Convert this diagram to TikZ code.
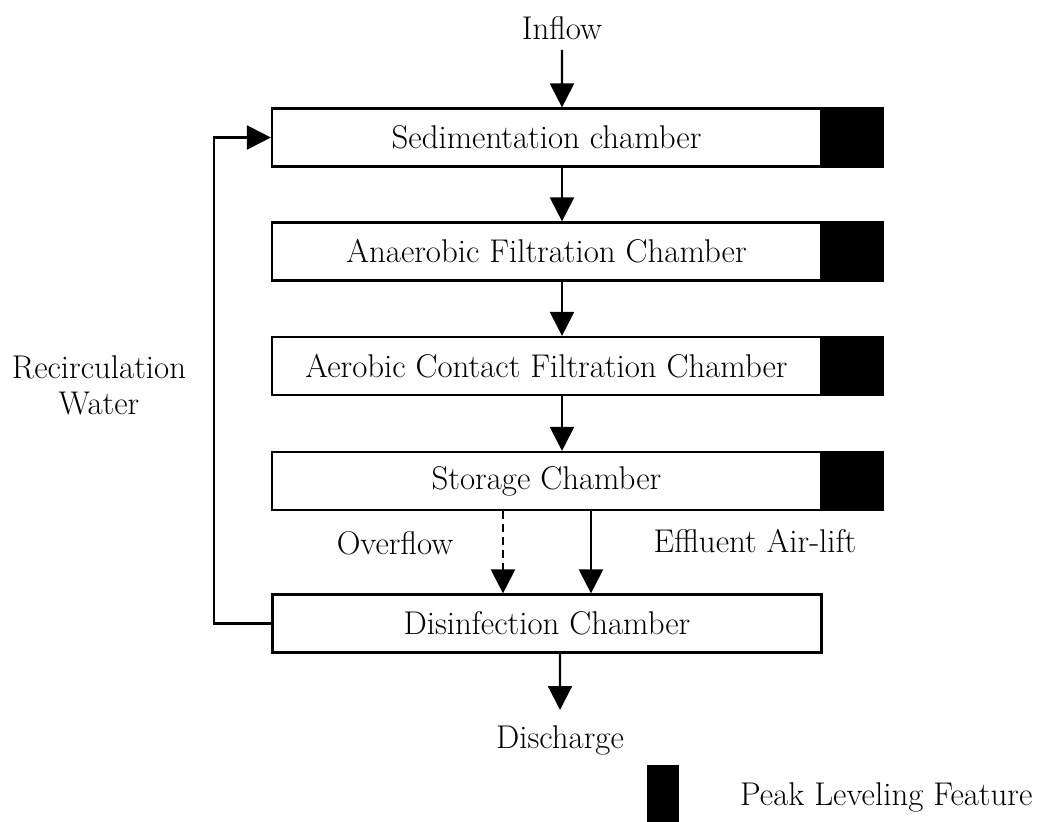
\documentclass[tikz,border=0pt]{standalone}
\usepackage{fontspec}
\usetikzlibrary{arrows.meta,positioning}
\tikzset{
  chamber/.style={draw,line width=2.2bp,minimum width=549bp,minimum height=58bp,inner sep=0pt,font=\fontsize{33}{38}\selectfont},
  peak/.style={draw,fill=black,line width=2.2bp,minimum width=60bp,minimum height=58bp,inner sep=0pt},
  lbl/.style={inner sep=2bp,font=\fontsize{33}{36}\selectfont},
  flow/.style={line width=2.2bp,-{Triangle[length=24bp,width=24bp]}},
}
\begin{document}
\begin{tikzpicture}[x=1bp,y=-1bp]
    \useasboundingbox (0,0) rectangle (1047,822);
    \def\cx{546.5} \def\ax{15.5bp} % centre of the chambers, offset of the arrows
    % chambers
    \node[chamber] (sed) at (\cx,137.5) {Sedimentation chamber};
    \node[peak,right=0pt of sed] (sedpk) {};
    \node[chamber] (ana) at (\cx,251.5) {Anaerobic Filtration Chamber};
    \node[peak,right=0pt of ana] (anapk) {};
    \node[chamber] (aer) at (\cx,366) {Aerobic Contact Filtration Chamber};
    \node[peak,right=0pt of aer] (aerpk) {};
    \node[chamber] (sto) at (\cx,481) {Storage Chamber};
    \node[peak,right=0pt of sto] (stopk) {};
    \node[chamber] (dis) at (547,623.5) {Disinfection Chamber};
    % labels
    \node[lbl,inner sep=10bp] (inflow) at (562,28) {Inflow};
    \node[lbl,anchor=north,inner sep=15bp] (out) at (560,710) {Discharge};
    \node[lbl] (ovf) at (395,543) {Overflow};
    \node[lbl] (eff) at (755,541) {Effluent Air-lift};
    \node[lbl,align=center] (recirc) at (99,385) {Recirculation\\Water};
    \coordinate (ret) at (214,137.5);
    % flows
    \draw[flow] (inflow.south) -- ([xshift=\ax]sed.north);
    \draw[flow] ([xshift=\ax]sed.south) -- ([xshift=\ax]ana.north);
    \draw[flow] ([xshift=\ax]ana.south) -- ([xshift=\ax]aer.north);
    \draw[flow] ([xshift=\ax]aer.south) -- ([xshift=\ax]sto.north);
    \draw[flow,dash pattern=on 8bp off 5bp] ([xshift=-43.5bp]sto.south) -- ([xshift=-44bp]dis.north);
    \draw[flow] ([xshift=44.5bp]sto.south) -- ([xshift=44bp]dis.north);
    \draw[flow] ([xshift=13bp]dis.south) -- (out.north);
    \draw[flow] (dis.west) -| (ret) -- (sed.west);
    % legend
    \node[peak,minimum width=30bp,minimum height=55bp] (key) at (663,794) {};
    \node[lbl,anchor=west] (keytxt) at (738,797) {Peak Leveling Feature};
\end{tikzpicture}
\end{document}
